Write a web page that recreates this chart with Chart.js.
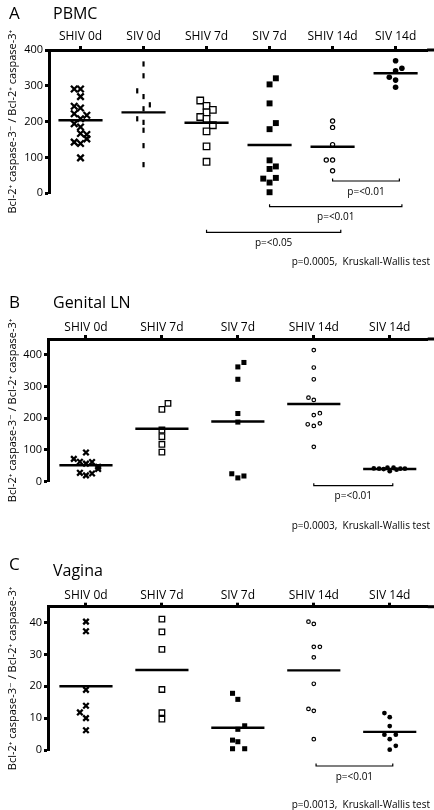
<!DOCTYPE html>
<html>
<head>
<meta charset="utf-8">
<script src="https://cdn.jsdelivr.net/npm/chart.js@4"></script>
<style>
  html, body { margin: 0; padding: 0; background: #fff; }
  canvas { position: absolute; left: 0; }
</style>
</head>
<body>
<canvas id="chartA" width="434" height="270" style="top:0px"></canvas>
<canvas id="chartB" width="434" height="265" style="top:270px"></canvas>
<canvas id="chartC" width="434" height="275" style="top:535px"></canvas>
<script>
// A - PBMC
const pbmcCats = ['SHIV 0d', 'SIV 0d', 'SHIV 7d', 'SIV 7d', 'SHIV 14d', 'SIV 14d'];
const pbmcShiv0 = [291, 291, 270, 243, 238, 222, 218, 208, 194, 185, 167, 164, 152, 143, 139, 99];
const pbmcShiv0Dx = [-0.1, 0, 0, -0.1, 0, -0.1, 0.1, 0, -0.1, 0, 0, 0.1, 0.1, -0.1, 0, 0];
const pbmcSiv0 = [361, 328, 286, 270, 247, 236, 208, 198, 176, 133, 80];
const pbmcSiv0Dx = [0, 0, -0.1, 0, 0.1, 0, -0.1, 0, 0, 0, 0];
const pbmcShiv7 = [259, 244, 233, 226, 213, 208, 190, 173, 131, 88];
const pbmcShiv7Dx = [-0.1, 0, 0.1, 0, -0.1, 0, 0.1, 0, 0, 0];
const pbmcSiv7 = [321, 304, 251, 196, 179, 92, 75, 68, 43, 41, 30, 3];
const pbmcSiv7Dx = [0.1, 0, 0, 0.1, 0, 0, 0.1, 0, 0.1, -0.1, 0, 0];
const pbmcShiv14 = [202, 184, 136, 93, 93, 63];
const pbmcShiv14Dx = [0, 0, 0, -0.1, 0, 0];
const pbmcSiv14 = [370, 349, 342, 324, 316, 296];
const pbmcSiv14Dx = [0, 0.1, 0, -0.1, 0, 0];
const pbmcMeans = [204, 226, 197, 135, 130, 335];
const pbmcP = ['p=<0.01', 'p=<0.01', 'p=<0.05'];
const pbmcKW = 'p=0.0005,  Kruskall-Wallis test';

// B - Genital LN
const lnCats = ['SHIV 0d', 'SHIV 7d', 'SIV 7d', 'SHIV 14d', 'SIV 14d'];
const lnShiv0 = [92, 72, 63, 57, 62, 47, 40, 28, 20, 26];
const lnShiv0Dx = [0, -0.16, -0.08, 0, 0.08, 0.16, 0.16, -0.08, 0, 0.08];
const lnShiv7 = [247, 228, 163, 142, 118, 93];
const lnShiv7Dx = [0.08, 0, 0, 0, 0, 0];
const lnSiv7 = [376, 362, 323, 215, 188, 25, 12, 18];
const lnSiv7Dx = [0.08, 0, 0, 0, 0, -0.08, 0, 0.08];
const lnShiv14 = [415, 360, 323, 265, 258, 216, 210, 184, 181, 176, 110];
const lnShiv14Dx = [0, 0, 0, -0.07, 0, 0.08, 0, 0.08, -0.08, 0, 0];
const lnSiv14 = [42, 41, 40, 44, 33, 44, 38, 41, 41];
const lnSiv14Dx = [-0.21, -0.14, -0.08, -0.03, 0, 0.05, 0.09, 0.14, 0.2];
const lnMeans = [52, 167, 190, 245, 40];
const lnP = ['p=<0.01'];
const lnKW = 'p=0.0003,  Kruskall-Wallis test';

// C - Vagina
const vagCats = ['SHIV 0d', 'SHIV 7d', 'SIV 7d', 'SHIV 14d', 'SIV 14d'];
const vagShiv0 = [40.3, 37.3, 18.9, 13.9, 11.8, 10, 6.2];
const vagShiv0Dx = [0, 0, 0, 0, -0.08, 0, 0];
const vagShiv7 = [41.1, 37.1, 31.6, 19, 11.7, 9.7];
const vagShiv7Dx = [0, 0, 0, 0, 0, 0];
const vagSiv7 = [17.8, 15.9, 7.6, 6.5, 3.1, 2.6, 0.4, 0.4];
const vagSiv7Dx = [-0.07, 0, 0.09, 0, -0.07, 0, -0.07, 0.09];
const vagShiv14 = [40.3, 39.6, 32.4, 32.4, 29.1, 20.8, 12.9, 12.3, 3.4];
const vagShiv14Dx = [-0.07, 0, 0, 0.08, 0, 0, -0.07, 0, 0];
const vagSiv14 = [11.6, 10.3, 7.5, 4.8, 4.8, 3.4, 1.3, 0.1];
const vagSiv14Dx = [-0.07, 0, 0, -0.07, 0.08, 0, 0.08, 0];
const vagMeans = [20, 25.1, 7, 25, 5.7];
const vagP = ['p=<0.01'];
const vagKW = 'p=0.0013,  Kruskall-Wallis test';

const yTitle = 'Bcl-2⁺ caspase-3⁻ / Bcl-2⁺ caspase-3⁺';
const FONT = '"Open Sans", "DejaVu Sans", sans-serif';
Chart.defaults.font.family = FONT;
Chart.defaults.color = '#000';

const markerStyles = {
  cross:   { pointStyle: 'crossRot', radius: 4.6, borderWidth: 2.3, fill: '#000' },
  dash:    { pointStyle: 'line', rotation: 90, radius: 2.6, borderWidth: 2.2, fill: '#000' },
  openSq:  { pointStyle: 'rect', radius: 4.6, borderWidth: 1.3, fill: '#fff' },
  fillSq:  { pointStyle: 'rect', radius: 4.2, borderWidth: 0, fill: '#000' },
  openDot: { pointStyle: 'circle', radius: 2.1, borderWidth: 1.2, fill: '#fff' },
  fillDot: { pointStyle: 'circle', radius: 2.8, borderWidth: 0, fill: '#000' }
};

function groupSets(values, offsets, means, markers, size) {
  const sets = [];
  values.forEach((vals, i) => {
    const m = markerStyles[markers[i]];
    sets.push({
      type: 'line',
      data: [{ x: i - 0.35, y: means[i] }, { x: i + 0.35, y: means[i] }],
      borderColor: '#000', borderWidth: 2.4, pointRadius: 0, clip: false
    });
    sets.push({
      type: 'scatter',
      data: vals.map((v, k) => ({ x: i + offsets[i][k], y: v })),
      pointStyle: m.pointStyle, pointRotation: m.rotation || 0,
      pointRadius: m.radius * size, pointBorderWidth: m.borderWidth,
      pointBackgroundColor: m.fill, pointBorderColor: '#000',
      clip: false
    });
  });
  return sets;
}

// letter, tissue name, significance brackets, Kruskal-Wallis note
const panelDecor = {
  id: 'panelDecor',
  afterDraw(chart, args, o) {
    const { ctx, chartArea: a } = chart;
    const x = chart.scales.x;
    ctx.save();
    ctx.fillStyle = '#000';
    ctx.fillRect(a.right, a.top - 1.5, chart.width - a.right, 3);
    ctx.textAlign = 'left';
    ctx.textBaseline = 'alphabetic';
    ctx.font = '17px ' + FONT;
    ctx.fillText(o.letter, 9, o.letterY);
    ctx.font = '16px ' + FONT;
    ctx.fillText(o.title, 53, o.titleY);
    ctx.strokeStyle = '#000';
    ctx.lineWidth = 1.2;
    ctx.font = '10px ' + FONT;
    ctx.textAlign = 'center';
    ctx.textBaseline = 'middle';
    o.brackets.forEach(b => {
      const x1 = x.getPixelForValue(b.from), x2 = x.getPixelForValue(b.to);
      const y = a.bottom + b.dy;
      ctx.beginPath();
      ctx.moveTo(x1, y - 2.5); ctx.lineTo(x1, y); ctx.lineTo(x2, y); ctx.lineTo(x2, y - 2.5);
      ctx.stroke();
      ctx.fillText(b.label, (x1 + x2) / 2, y + 10.7);
    });
    ctx.textAlign = 'right';
    ctx.fillText(o.kw, 430, a.bottom + o.kwDy);
    ctx.restore();
  }
};

function makePanel(id, p) {
  new Chart(document.getElementById(id), {
    type: 'scatter',
    data: { datasets: groupSets(p.values, p.offsets, p.means, p.markers, p.size) },
    options: {
      responsive: false, animation: false, events: [],
      layout: { padding: { left: 0, top: 0, right: p.padRight, bottom: p.padBottom } },
      plugins: { legend: { display: false }, tooltip: { enabled: false }, panelDecor: p.decor },
      scales: {
        x: {
          type: 'linear', position: 'top', min: -0.5, max: p.cats.length - 0.5,
          afterBuildTicks: s => { s.ticks = p.cats.map((c, i) => ({ value: i })); },
          afterFit: s => { s.height = p.top; },
          ticks: { callback: v => p.cats[v], font: { size: 12 }, color: '#000', padding: p.labelPad, maxRotation: 0, autoSkip: false },
          grid: { drawOnChartArea: false, tickLength: 4, tickWidth: 3, tickColor: '#000' },
          border: { color: '#000', width: 3 }
        },
        y: {
          min: 0, max: p.yMax,
          afterFit: s => { s.width = p.left; },
          ticks: { stepSize: p.yStep, includeBounds: false, font: { size: 11 }, color: '#000', padding: 2 },
          grid: { drawOnChartArea: false, tickLength: 4, tickWidth: 3, tickColor: '#000' },
          border: { color: '#000', width: 3 },
          title: { display: true, text: yTitle, font: { size: 11 }, color: '#000', padding: { top: 6, bottom: 0 } }
        }
      }
    },
    plugins: [panelDecor]
  });
}

makePanel('chartA', {
  cats: pbmcCats,
  values: [pbmcShiv0, pbmcSiv0, pbmcShiv7, pbmcSiv7, pbmcShiv14, pbmcSiv14],
  offsets: [pbmcShiv0Dx, pbmcSiv0Dx, pbmcShiv7Dx, pbmcSiv7Dx, pbmcShiv14Dx, pbmcSiv14Dx],
  means: pbmcMeans,
  markers: ['cross', 'dash', 'openSq', 'fillSq', 'openDot', 'fillDot'],
  size: 1, yMax: 400, yStep: 100,
  top: 50, left: 49, padRight: 3, padBottom: 76.7, labelPad: 2,
  decor: {
    letter: 'A', letterY: 18.5, title: 'PBMC', titleY: 18.5,
    brackets: [
      { from: 4, to: 5.06, dy: -12.3, label: pbmcP[0] },
      { from: 3, to: 5.1, dy: 13.4, label: pbmcP[1] },
      { from: 2, to: 4.13, dy: 39, label: pbmcP[2] }
    ],
    kw: pbmcKW, kwDy: 68.4
  }
});

makePanel('chartB', {
  cats: lnCats,
  values: [lnShiv0, lnShiv7, lnSiv7, lnShiv14, lnSiv14],
  offsets: [lnShiv0Dx, lnShiv7Dx, lnSiv7Dx, lnShiv14Dx, lnSiv14Dx],
  means: lnMeans,
  markers: ['cross', 'openSq', 'fillSq', 'openDot', 'fillDot'],
  size: 0.85, yMax: 450, yStep: 100,
  top: 69, left: 48, padRight: 6, padBottom: 53.3, labelPad: 0,
  decor: {
    letter: 'B', letterY: 37.7, title: 'Genital LN', titleY: 37.7,
    brackets: [{ from: 3, to: 4.04, dy: 4, label: lnP[0] }],
    kw: lnKW, kwDy: 44.3
  }
});

makePanel('chartC', {
  cats: vagCats,
  values: [vagShiv0, vagShiv7, vagSiv7, vagShiv14, vagSiv14],
  offsets: [vagShiv0Dx, vagShiv7Dx, vagSiv7Dx, vagShiv14Dx, vagSiv14Dx],
  means: vagMeans,
  markers: ['cross', 'openSq', 'fillSq', 'openDot', 'fillDot'],
  size: 0.85, yMax: 45, yStep: 10,
  top: 71.7, left: 48, padRight: 6, padBottom: 60, labelPad: 0,
  decor: {
    letter: 'C', letterY: 35, title: 'Vagina', titleY: 40.5,
    brackets: [{ from: 3.03, to: 4.04, dy: 16, label: vagP[0] }],
    kw: vagKW, kwDy: 55
  }
});
</script>
</body>
</html>
